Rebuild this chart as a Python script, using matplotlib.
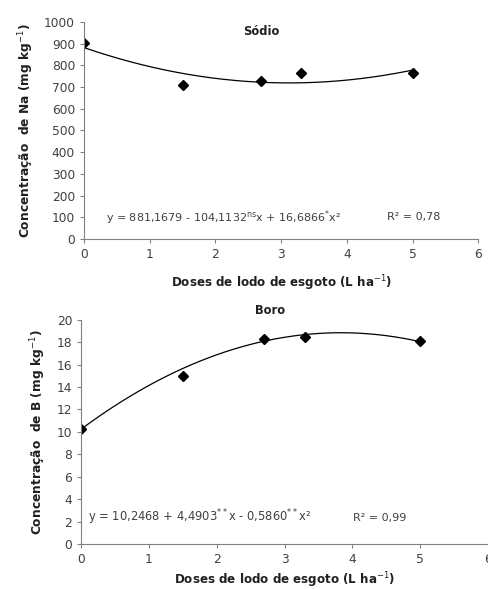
import numpy as np
import matplotlib.pyplot as plt

# doses (L ha-1)
doses = [0, 1.5, 2.7, 3.3, 5]

# sodium
na_vals = [902, 711, 726, 765, 765]
na_coef = [881.1679, -104.1132, 16.6866]

# boron
b_vals = [10.24, 14.95, 18.27, 18.45, 18.15]
b_coef = [10.2468, 4.4903, -0.5860]

grey = '#404040'
plt.rcParams['font.family'] = 'DejaVu Sans'
plt.rcParams['font.size'] = 7.5

fig = plt.figure(figsize=(4.89, 5.89), dpi=100)
ax1 = fig.add_axes([0.172, 0.594, 0.806, 0.369])
ax2 = fig.add_axes([0.166, 0.0764, 0.832, 0.3806])

xs = np.linspace(0, 5, 200)


def style(ax):
    for s in ['top', 'right']:
        ax.spines[s].set_visible(False)
    for s in ['left', 'bottom']:
        ax.spines[s].set_color('#808080')
        ax.spines[s].set_linewidth(0.8)
    ax.tick_params(colors='#808080', labelcolor=grey, length=3, width=0.8, labelsize=8.8)
    ax.set_xlim(0, 6)
    ax.set_xticks(range(7))


# Sodio
ax1.plot(xs, na_coef[0] + na_coef[1] * xs + na_coef[2] * xs ** 2, color='black', lw=0.9)
ax1.plot(doses, na_vals, 'D', color='black', ms=5.5)
style(ax1)
ax1.set_ylim(0, 1000)
ax1.set_yticks(range(0, 1001, 100))
ax1.text(0.45, 0.985, 'Sódio', transform=ax1.transAxes, fontweight='bold', ha='center', va='top',
         fontsize=8.3, color='#202020')
ax1.text(0.055, 100, r'y = 881,1679 - 104,1132$^{\mathrm{ns}}$x + 16,6866$^{\mathrm{*}}$x²',
         transform=ax1.get_yaxis_transform(), color=grey, fontsize=8, va='center')
ax1.text(5.02, 100, 'R² = 0,78', color=grey, fontsize=8, va='center', ha='center')
ax1.set_xlabel('Doses de lodo de esgoto (L ha$^{-1}$)', fontweight='bold', color='#202020', fontsize=8.6, labelpad=9)
ax1.set_ylabel('Concentração  de Na (mg kg$^{-1}$)', fontweight='bold', color='#202020', fontsize=8.8, labelpad=6)

# Boro
ax2.plot(xs, b_coef[0] + b_coef[1] * xs + b_coef[2] * xs ** 2, color='black', lw=0.9)
ax2.plot(doses, b_vals, 'D', color='black', ms=5.5)
style(ax2)
ax2.set_ylim(0, 20)
ax2.set_yticks(range(0, 21, 2))
ax2.text(0.465, 1.07, 'Boro', transform=ax2.transAxes, fontweight='bold', ha='center', va='top',
         fontsize=8.3, color='#202020')
ax2.text(0.1, 2.35, r'y = 10,2468 + 4,4903$^{\mathrm{**}}$x - 0,5860$^{\mathrm{**}}$x²', color=grey,
         fontsize=8.3, va='center')
ax2.text(4.4, 2.35, 'R² = 0,99', color=grey, fontsize=8, va='center', ha='center')
ax2.set_xlabel('Doses de lodo de esgoto (L ha$^{-1}$)', fontweight='bold', color='#202020', fontsize=8.6, labelpad=3)
ax2.set_ylabel('Concentração  de B (mg kg$^{-1}$)', fontweight='bold', color='#202020', fontsize=8.8, labelpad=6)

fig.savefig('out.png', dpi=100)
